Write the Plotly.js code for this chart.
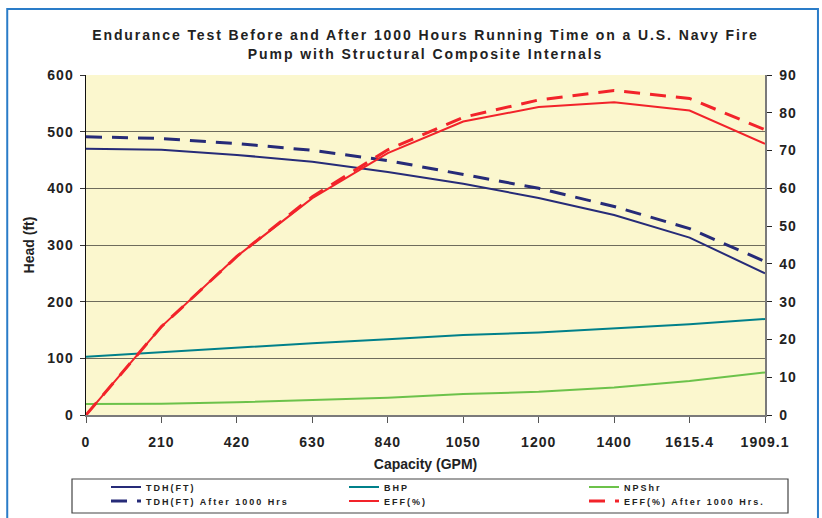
<!DOCTYPE html>
<html>
<head>
<meta charset="utf-8">
<script src="https://cdn.plot.ly/plotly-3.0.1.min.js"></script>
<style>
  html, body { margin: 0; padding: 0; background: #fff; }
  #chart { width: 822px; height: 518px; }
  .gtitle { letter-spacing: 1.9px; }
  .xtick text, .ytick text, .y2tick text { letter-spacing: 1px; }
  .infolayer g[class^="legend"] text, text.legendtext { letter-spacing: 2px; }
  .infolayer g[class^="legend"] .scrollbox, .infolayer g[class^="legend"] g { clip-path: none !important; }
</style>
</head>
<body>
<div id="chart"></div>
<script>
// Capacity (GPM) categories
const capacity = ['0', '210', '420', '630', '840', '1050', '1200', '1400', '1615.4', '1909.1'];
// Left axis: Head (ft)
const tdh       = [470, 468, 459, 447, 429, 408, 383, 353, 313, 250];
const tdhAfter  = [491, 488, 479, 467, 449, 425, 400, 368, 329, 271];
const bhp       = [102.6, 111, 119, 126.7, 133.7, 141, 145.5, 152.5, 160, 169.5];
const npshr     = [19.4, 20, 22.3, 26.4, 30.5, 37, 41, 48.7, 59.8, 75];
// Right axis: efficiency (%)
const eff       = [0, 23.4, 42, 57.4, 69.3, 77.7, 81.5, 82.8, 80.6, 71.8];
const effAfter  = [0, 23.4, 42, 57.8, 70.2, 78.8, 83.4, 85.9, 83.8, 75.5];

const navy = '#262B78', teal = '#00808A', green = '#6CC24A', red = '#F2232A';
const FONT = 'Liberation Sans, Arial, sans-serif';

const traces = [
  {name: 'TDH(FT)', y: tdh, line: {color: navy, width: 2}, legend: 'legend'},
  {name: 'BHP', y: bhp, line: {color: teal, width: 2}, legend: 'legend2'},
  {name: 'NPShr', y: npshr, line: {color: green, width: 2}, legend: 'legend3'},
  {name: 'TDH(FT) After 1000 Hrs', y: tdhAfter, line: {color: navy, width: 3, dash: '16px,10px'}, legend: 'legend4'},
  {name: 'EFF(%)', y: eff, yaxis: 'y2', line: {color: red, width: 2}, legend: 'legend5'},
  {name: 'EFF(%) After 1000 Hrs.', y: effAfter, yaxis: 'y2', line: {color: red, width: 3, dash: '16px,10px'}, legend: 'legend6'}
].map(t => Object.assign({type: 'scatter', mode: 'lines', x: capacity, hoverinfo: 'skip'}, t));

const tickFont = {family: FONT, size: 14, color: '#222', weight: 'bold'};
function leg(px, py) {
  return {
    orientation: 'h', xref: 'container', yref: 'container', xanchor: 'left', yanchor: 'middle',
    x: px / 822, y: 1 - py / 518,
    font: {family: FONT, size: 9, color: '#222', weight: 'bold'},
    bgcolor: 'rgba(0,0,0,0)', borderwidth: 0
  };
}
const colX = [106, 344, 584], rowY = [487, 501];

const layout = {
  width: 822, height: 518,
  margin: {l: 86, r: 57, t: 75, b: 103, autoexpand: false},
  paper_bgcolor: '#ffffff',
  plot_bgcolor: '#FBF7CE',
  showlegend: true,
  title: {
    text: 'Endurance Test Before and After 1000 Hours Running Time on a U.S. Navy Fire<br>Pump with Structural Composite Internals',
    font: {family: FONT, size: 14, color: '#222', weight: 'bold'},
    x: 0.5, xref: 'paper', xanchor: 'center',
    y: 0.922, yref: 'container', yanchor: 'middle'
  },
  xaxis: {
    type: 'category', range: [0, 9],
    showgrid: false, zeroline: false,
    showline: true, linecolor: '#7a7a7a', linewidth: 1.5,
    ticks: 'outside', ticklen: 6, tickcolor: '#555', tickwidth: 1,
    tickfont: tickFont, ticklabelstandoff: 8,
    title: {text: 'Capacity (GPM)', font: {family: FONT, size: 14, color: '#222', weight: 'bold'}, standoff: 16}
  },
  yaxis: {
    range: [0, 600], dtick: 100,
    showgrid: true, gridcolor: '#6e6c5c', gridwidth: 1,
    zeroline: false,
    showline: true, linecolor: '#111', linewidth: 1.5,
    ticks: 'outside', ticklen: 5, tickcolor: '#333',
    tickfont: tickFont, ticklabelstandoff: 3,
    title: {text: 'Head (ft)', font: {family: FONT, size: 14, color: '#222', weight: 'bold'}, standoff: 9}
  },
  yaxis2: {
    range: [0, 90], dtick: 10, overlaying: 'y', side: 'right',
    showgrid: false, zeroline: false,
    showline: true, linecolor: '#7a7a7a', linewidth: 1.5,
    ticks: 'outside', ticklen: 5, tickcolor: '#222',
    tickfont: tickFont, ticklabelstandoff: 5
  },
  yaxis3: {
    range: [0, 90], dtick: 10, overlaying: 'y', side: 'right', anchor: 'x',
    showgrid: false, zeroline: false, showline: false,
    ticks: 'inside', ticklen: 4, tickcolor: '#222', showticklabels: false
  },
  legend:  leg(colX[0], rowY[0]),
  legend2: leg(colX[1], rowY[0]),
  legend3: leg(colX[2], rowY[0]),
  legend4: leg(colX[0], rowY[1]),
  legend5: leg(colX[1], rowY[1]),
  legend6: leg(colX[2], rowY[1]),
  shapes: [
    {type: 'rect', xref: 'paper', yref: 'paper', x0: -0.116, x1: 1.078, y0: -0.34, y1: 1.194,
     line: {color: '#2A7CC8', width: 2}, fillcolor: 'rgba(0,0,0,0)', layer: 'below'},
    {type: 'rect', xref: 'paper', yref: 'paper', x0: (72 - 86) / 679, x1: (788 - 86) / 679,
     y0: (415 - 513) / 340, y1: (415 - 479) / 340,
     line: {color: '#444', width: 1.2}, fillcolor: '#ffffff', layer: 'below'}
  ]
};

Plotly.newPlot('chart', traces, layout, {displayModeBar: false, staticPlot: true});
</script>
</body>
</html>
